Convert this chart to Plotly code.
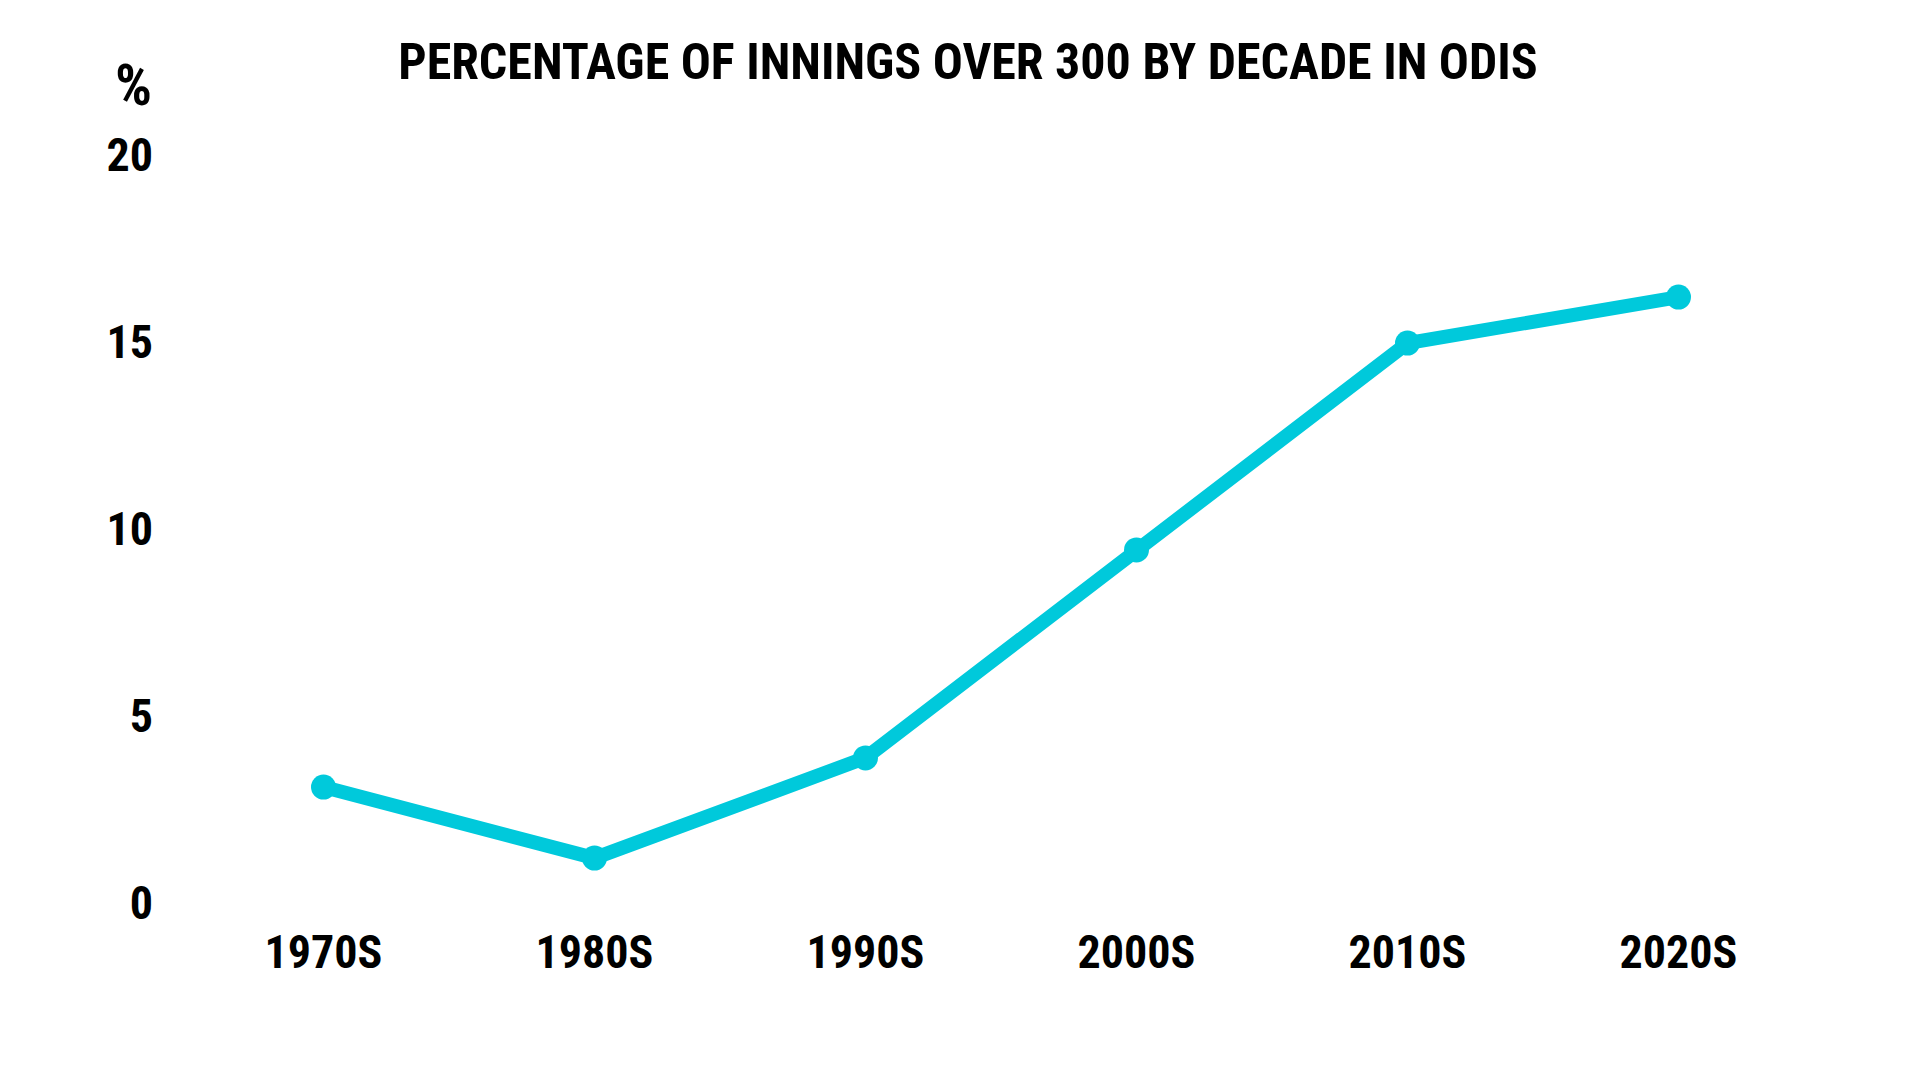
import plotly.graph_objects as go

decades = ["1970S", "1980S", "1990S", "2000S", "2010S", "2020S"]
pct_over_300 = [3.1, 1.2, 3.88, 9.44, 14.97, 16.2]
y_ticks = [0, 5, 10, 15, 20]

FONT = "Roboto Condensed, Liberation Sans Narrow, DejaVu Sans Condensed, sans-serif"
LINE = "#00C9DB"

fig = go.Figure(
    go.Scatter(
        x=decades,
        y=pct_over_300,
        mode="lines+markers",
        line=dict(color=LINE, width=14),
        marker=dict(color=LINE, size=25),
        cliponaxis=False,
        hoverinfo="skip",
    )
)

fig.update_layout(
    width=1920,
    height=1080,
    paper_bgcolor="white",
    plot_bgcolor="white",
    margin=dict(l=180, r=114, t=147, b=185),
    showlegend=False,
    title=dict(
        text="PERCENTAGE OF INNINGS OVER 300 BY DECADE IN ODIS",
        x=0.5,
        xanchor="center",
        y=1 - 53 / 1080,
        yanchor="middle",
        font=dict(family=FONT, size=50, color="black", weight="bold"),
    ),
    annotations=[
        dict(
            text="%",
            xref="paper",
            yref="paper",
            x=(154 - 188) / 1626,
            y=1 + 70 / 748,
            xanchor="right",
            yanchor="middle",
            showarrow=False,
            font=dict(family=FONT, size=58, color="black", weight="bold"),
        )
    ],
)

fig.update_xaxes(
    type="category",
    range=[-0.5, 5.5],
    showgrid=False,
    zeroline=False,
    showline=False,
    ticks="",
    tickfont=dict(family=FONT, size=46, color="black", weight="bold"),
    ticklabelstandoff=18,
)

fig.update_yaxes(
    range=[0, 20],
    tickvals=y_ticks,
    showgrid=False,
    zeroline=False,
    showline=False,
    ticks="",
    tickfont=dict(family=FONT, size=46, color="black", weight="bold"),
    ticklabelstandoff=34,
)

fig.write_html("out.html")
